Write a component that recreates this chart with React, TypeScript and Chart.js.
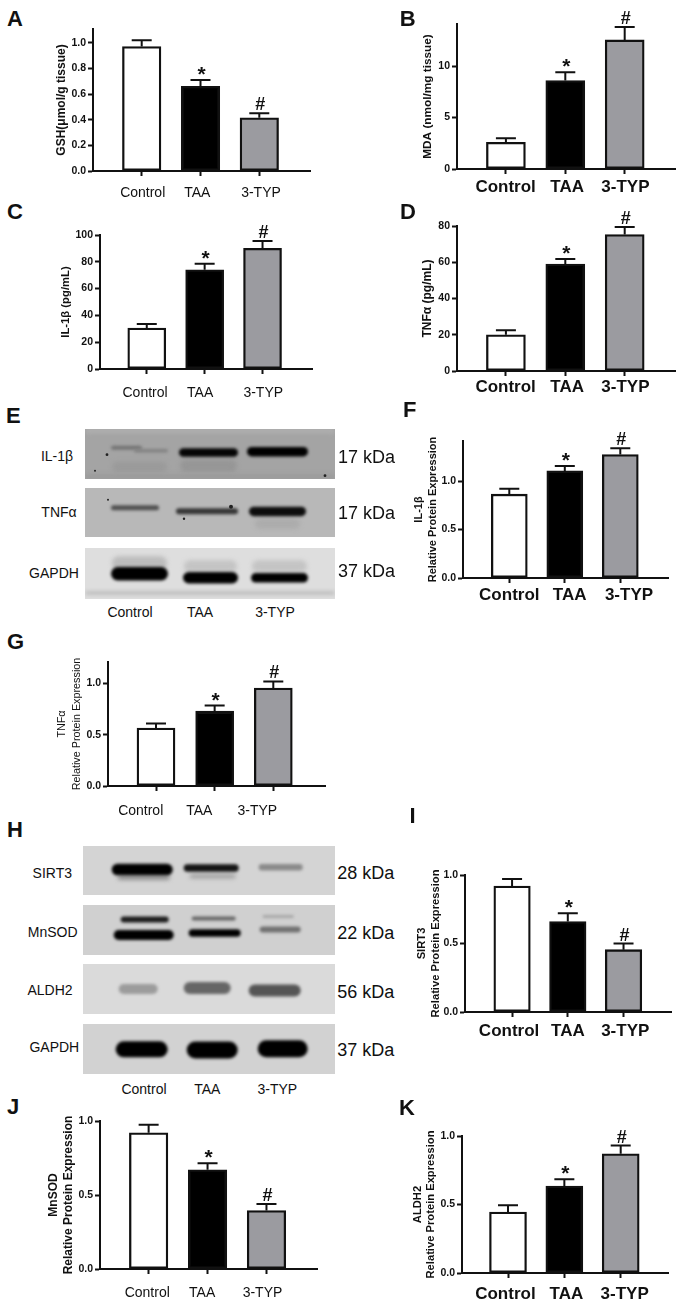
import React, { useEffect, useRef } from "react";
import { Chart, registerables } from "chart.js";

Chart.register(...registerables);

const FONT = "'Liberation Sans', Arial, sans-serif";

// ---------- data ----------
const categories = ["Control", "TAA", "3-TYP"];
const symbols = ["", "*", "#"];

const gshMeans = [0.97, 0.66, 0.415];
const gshErrTops = [1.02, 0.71, 0.45];
const gshTicks = [0, 0.2, 0.4, 0.6, 0.8, 1.0];

const mdaMeans = [2.6, 8.6, 12.55];
const mdaErrTops = [3.0, 9.4, 13.8];
const mdaTicks = [0, 5, 10];

const il1Means = [30.5, 74, 90];
const il1ErrTops = [33.5, 78.5, 95.5];
const il1Ticks = [0, 20, 40, 60, 80, 100];

const tnfMeans = [20, 59, 75.3];
const tnfErrTops = [22.5, 61.8, 79.5];
const tnfTicks = [0, 20, 40, 60, 80];

const il1ProteinMeans = [0.865, 1.105, 1.275];
const il1ProteinErrTops = [0.92, 1.155, 1.34];
const tnfProteinMeans = [0.565, 0.73, 0.955];
const tnfProteinErrTops = [0.61, 0.785, 1.02];
const sirt3Means = [0.92, 0.66, 0.455];
const sirt3ErrTops = [0.97, 0.72, 0.5];
const mnsodMeans = [0.92, 0.67, 0.395];
const mnsodErrTops = [0.975, 0.715, 0.44];
const aldh2Means = [0.445, 0.635, 0.87];
const aldh2ErrTops = [0.495, 0.685, 0.93];
const proteinTicks = [0, 0.5, 1.0];

// ---------- panel definitions ----------
type Panel = {
  key: string;
  means: number[];
  errs: number[];
  ticks: number[];
  decimals: number;
  yMax: number;
  title: string[];
  titleX: number;
  titleSize: number;
  titleWeight: string;
  lineGap: number;
  axisX: number;
  xEnd: number;
  yTop: number;
  y0: number;
  tickPx: number[];
  labelPx: number[];
  labelY: number;
  labelBold: boolean;
  barW: number;
};

const panels: Panel[] = [
  { key: "A", means: gshMeans, errs: gshErrTops, ticks: gshTicks, decimals: 1, yMax: 1.107, title: ["GSH(μmol/g tissue)"], titleX: 61.7, titleSize: 12, titleWeight: "bold", lineGap: 14, axisX: 93, xEnd: 310, yTop: 29, y0: 171.3, tickPx: [141.7, 200.7, 259.3], labelPx: [142.7, 197.3, 261], labelY: 193, labelBold: false, barW: 38.5 },
  { key: "B", means: mdaMeans, errs: mdaErrTops, ticks: mdaTicks, decimals: 0, yMax: 14.1, title: ["MDA (nmol/mg tissue)"], titleX: 428, titleSize: 11.8, titleWeight: "bold", lineGap: 14, axisX: 457.3, xEnd: 675.7, yTop: 24, y0: 169.3, tickPx: [506.3, 565.7, 625.3], labelPx: [506, 567.7, 626], labelY: 188, labelBold: true, barW: 39 },
  { key: "C", means: il1Means, errs: il1ErrTops, ticks: il1Ticks, decimals: 0, yMax: 100, title: ["IL-1β (pg/mL)"], titleX: 65.7, titleSize: 11.3, titleWeight: "bold", lineGap: 14, axisX: 100, xEnd: 311.7, yTop: 235, y0: 369, tickPx: [146.7, 204.3, 262.3], labelPx: [145, 200, 263], labelY: 392.7, labelBold: false, barW: 38 },
  { key: "D", means: tnfMeans, errs: tnfErrTops, ticks: tnfTicks, decimals: 0, yMax: 80, title: ["TNFα (pg/mL)"], titleX: 428, titleSize: 12, titleWeight: "bold", lineGap: 14, axisX: 457.3, xEnd: 675.7, yTop: 226, y0: 371.3, tickPx: [506.3, 565.7, 625.3], labelPx: [506, 567.7, 626], labelY: 388, labelBold: true, barW: 39 },
  { key: "F", means: il1ProteinMeans, errs: il1ProteinErrTops, ticks: proteinTicks, decimals: 1, yMax: 1.414, title: ["IL-1β", "Relative Protein Expression"], titleX: 418.3, titleSize: 11, titleWeight: "bold", lineGap: 14.4, axisX: 462.7, xEnd: 667.7, yTop: 441, y0: 577.7, tickPx: [509, 565, 620], labelPx: [509, 569.3, 628.7], labelY: 595, labelBold: true, barW: 36 },
  { key: "G", means: tnfProteinMeans, errs: tnfProteinErrTops, ticks: proteinTicks, decimals: 1, yMax: 1.21, title: ["TNFα", "Relative Protein Expression"], titleX: 62.3, titleSize: 10.8, titleWeight: "normal", lineGap: 15, axisX: 108, xEnd: 325, yTop: 661.7, y0: 785.3, tickPx: [156, 214.7, 273.3], labelPx: [140.7, 199.3, 257.3], labelY: 810, labelBold: false, barW: 38 },
  { key: "I", means: sirt3Means, errs: sirt3ErrTops, ticks: proteinTicks, decimals: 1, yMax: 1, title: ["SIRT3", "Relative Protein Expression"], titleX: 421.7, titleSize: 11.2, titleWeight: "bold", lineGap: 14, axisX: 465, xEnd: 670.7, yTop: 875, y0: 1012, tickPx: [512, 567.7, 623.3], labelPx: [509, 567.7, 625], labelY: 1031.7, labelBold: true, barW: 36.5 },
  { key: "J", means: mnsodMeans, errs: mnsodErrTops, ticks: proteinTicks, decimals: 1, yMax: 1, title: ["MnSOD", "Relative Protein Expression"], titleX: 54, titleSize: 12, titleWeight: "bold", lineGap: 14.3, axisX: 100, xEnd: 317.3, yTop: 1121, y0: 1268.7, tickPx: [148.7, 207.3, 266.7], labelPx: [147.3, 202.3, 262.7], labelY: 1293, labelBold: false, barW: 38.5 },
  { key: "K", means: aldh2Means, errs: aldh2ErrTops, ticks: proteinTicks, decimals: 1, yMax: 1, title: ["ALDH2", "Relative Protein Expression"], titleX: 418.3, titleSize: 11.2, titleWeight: "bold", lineGap: 13.4, axisX: 462.3, xEnd: 668.3, yTop: 1135.7, y0: 1273, tickPx: [508.3, 565, 621], labelPx: [505.7, 566.7, 625], labelY: 1294, labelBold: true, barW: 37 },
];

const INK = "#111111";
const barFills = ["#ffffff", "#000000", "#9b9ba0"];
const CANVAS_LEFT = 62;
const CANVAS_TOP = 22;
const CANVAS_BOTTOM = 36;
const CANVAS_RIGHT = 4;

const errorPlugin = {
  id: "errorMarks",
  beforeDatasetsDraw(chart: any) {
    const opts = chart.options.plugins.errorMarks;
    const x = chart.scales.x;
    const y = chart.scales.y;
    const ctx = chart.ctx;
    ctx.save();
    ctx.strokeStyle = INK;
    ctx.lineWidth = 2;
    opts.means.forEach((m: number, i: number) => {
      const px = x.getPixelForValue(i + 1);
      const top = y.getPixelForValue(opts.errs[i]);
      const base = y.getPixelForValue(m);
      ctx.beginPath();
      ctx.moveTo(px, base);
      ctx.lineTo(px, top);
      ctx.moveTo(px - 10, top);
      ctx.lineTo(px + 10, top);
      ctx.stroke();
    });
    ctx.restore();
  },
  afterDatasetsDraw(chart: any) {
    const opts = chart.options.plugins.errorMarks;
    const x = chart.scales.x;
    const y = chart.scales.y;
    const ctx = chart.ctx;
    ctx.save();
    ctx.fillStyle = INK;
    ctx.textAlign = "center";
    ctx.textBaseline = "alphabetic";
    symbols.forEach((s, i) => {
      if (!s) return;
      const px = x.getPixelForValue(i + 1) + 1;
      const top = y.getPixelForValue(opts.errs[i]);
      if (s === "*") {
        ctx.font = `bold 21px ${FONT}`;
        ctx.fillText(s, px, top + 1);
      } else {
        ctx.font = `bold 18px ${FONT}`;
        ctx.fillText(s, px, top - 3);
      }
    });
    ctx.restore();
  },
};

function BarPanel({ p }: { p: Panel }) {
  const ref = useRef<HTMLCanvasElement | null>(null);
  const left = p.axisX - CANVAS_LEFT;
  const top = p.yTop - CANVAS_TOP;
  const width = p.xEnd - left + CANVAS_RIGHT;
  const height = p.y0 + CANVAS_BOTTOM - top;

  useEffect(() => {
    if (!ref.current) return;
    const unit = (p.tickPx[2] - p.tickPx[0]) / 2;
    const xMin = 1 - (p.tickPx[0] - p.axisX) / unit;
    const xMax = 3 + (p.xEnd - p.tickPx[2]) / unit;
    const labelValues = p.labelPx.map((px) => xMin + (px - p.axisX) / unit);
    const labelSize = p.labelBold ? 17 : 14;
    const lh = p.lineGap / p.titleSize;
    const chart = new Chart(ref.current, {
      type: "bar",
      data: {
        datasets: [
          {
            data: p.means.map((m, i) => ({ x: i + 1, y: m })),
            backgroundColor: barFills,
            borderColor: INK,
            borderWidth: 2.3,
            borderSkipped: false,
            barThickness: p.barW,
          },
        ],
      } as any,
      plugins: [errorPlugin as any],
      options: {
        animation: false,
        responsive: false,
        devicePixelRatio: 1,
        layout: { padding: { top: CANVAS_TOP, left: 0, right: CANVAS_RIGHT, bottom: 0 } },
        plugins: {
          legend: { display: false },
          tooltip: { enabled: false },
          errorMarks: { means: p.means, errs: p.errs },
        } as any,
        scales: {
          x: {
            type: "linear",
            position: "bottom",
            weight: 0,
            min: xMin,
            max: xMax,
            offset: false,
            afterBuildTicks: (s: any) => {
              s.ticks = [{ value: 1 }, { value: 2 }, { value: 3 }];
            },
            afterFit: (s: any) => {
              s.height = 5;
            },
            grid: { display: true, offset: false, drawOnChartArea: false, drawTicks: true, tickLength: 5, tickWidth: 2, tickColor: INK, color: INK },
            border: { display: true, color: INK, width: 2 },
            ticks: { display: false },
          },
          xl: {
            type: "linear",
            axis: "x",
            position: "bottom",
            weight: 1,
            min: xMin,
            max: xMax,
            offset: false,
            afterBuildTicks: (s: any) => {
              s.ticks = labelValues.map((value) => ({ value }));
            },
            afterFit: (s: any) => {
              s.height = CANVAS_BOTTOM - 5;
            },
            grid: { display: false, drawTicks: false, drawOnChartArea: false, offset: false },
            border: { display: false },
            ticks: {
              autoSkip: false,
              maxRotation: 0,
              minRotation: 0,
              color: INK,
              padding: p.labelY - (p.y0 + 5) - 0.6 * labelSize,
              font: { family: FONT, size: labelSize, weight: p.labelBold ? "bold" : "normal" },
              callback: (_v: any, i: number) => categories[i],
            },
          },
          y: {
            type: "linear",
            min: 0,
            max: p.yMax,
            afterBuildTicks: (s: any) => {
              s.ticks = p.ticks.map((value) => ({ value }));
            },
            afterFit: (s: any) => {
              s.width = CANVAS_LEFT;
            },
            grid: { display: true, drawOnChartArea: false, drawTicks: true, tickLength: 5, tickWidth: 2, tickColor: INK, color: INK },
            border: { display: true, color: INK, width: 2 },
            ticks: {
              color: INK,
              padding: 2,
              font: { family: FONT, size: 10.5, weight: "bold" },
              callback: (v: any) => Number(v).toFixed(p.decimals),
            },
            title: {
              display: true,
              text: p.title,
              color: INK,
              align: "center",
              padding: { top: p.titleX - left - p.lineGap / 2, bottom: 0 },
              font: { family: FONT, size: p.titleSize, weight: p.titleWeight, lineHeight: lh },
            },
          },
        },
      } as any,
    });
    return () => chart.destroy();
  }, []);

  return <canvas ref={ref} width={Math.round(width)} height={Math.round(height)} style={{ position: "absolute", left, top, width: Math.round(width), height: Math.round(height) }} />;
}

// ---------- western blots (photographs, painted as soft shapes) ----------
type Band = [number, number, number, number, string];
type Blot = { x0: number; x1: number; y0: number; y1: number; bg: string; bands: Band[]; halos?: Band[]; specks?: [number, number, number][] };

const blots: Blot[] = [
  { x0: 85, x1: 335, y0: 429.3, y1: 479, bg: "#a4a4a4", bands: [[111, 142, 448, 4, "#747474"], [134, 168, 451, 3.5, "#828282"], [179, 238, 452.7, 8.5, "#050505"], [247, 308, 452, 9.5, "#000000"]], halos: [[180, 237, 466, 12, "#969696"], [112, 167, 467, 10, "#9a9a9a"], [85, 335, 431, 5, "#b0b0b0"], [85, 335, 477, 4, "#989898"]], specks: [[107, 455, 1.4], [95, 471, 1], [325, 476, 1.4]] },
  { x0: 85, x1: 335, y0: 488.3, y1: 537.7, bg: "#b8b8b8", bands: [[111, 159, 508, 5, "#4f4f4f"], [176, 238, 511.5, 6, "#363636"], [249, 306, 511.7, 9.5, "#0d0d0d"]], halos: [[255, 300, 524, 10, "#acacac"]], specks: [[231, 507, 2], [184, 519, 1.2], [108, 500, 1]] },
  { x0: 85, x1: 335, y0: 547.7, y1: 599, bg: "#dedede", bands: [[111, 168, 573.5, 13.5, "#000000"], [183, 238, 577.5, 11.5, "#000000"], [251, 308, 577.5, 9.5, "#000000"]], halos: [[112, 167, 563, 14, "#bcbcbc"], [184, 237, 566, 12, "#c4c4c4"], [252, 307, 566, 12, "#c4c4c4"], [85, 335, 592.7, 1.5, "#8c8c8c"]] },
  { x0: 83.3, x1: 335, y0: 845.7, y1: 895, bg: "#d4d4d4", bands: [[112, 173, 869.3, 11.5, "#000000"], [184, 239, 867.7, 7.5, "#141414"], [259, 303, 867, 6.5, "#8a8a8a"]], halos: [[118, 170, 877, 5, "#8a8a8a"], [190, 236, 876, 4, "#9c9c9c"]] },
  { x0: 83.3, x1: 335, y0: 904.7, y1: 954.3, bg: "#d0d0d0", bands: [[121, 169, 919.3, 6, "#1c1c1c"], [114, 174, 934.7, 10, "#000000"], [192, 236, 918.3, 4, "#666666"], [189, 241, 932.7, 7.5, "#000000"], [263, 294, 916.3, 2.5, "#a0a0a0"], [260, 301, 929.3, 6, "#707070"]] },
  { x0: 83.3, x1: 335, y0: 964.3, y1: 1014, bg: "#dadada", bands: [[119, 158, 989.3, 10, "#9c9c9c"], [184, 231, 988.3, 12, "#666666"], [249, 301, 990.7, 12, "#555555"]] },
  { x0: 83.3, x1: 335, y0: 1024, y1: 1074.3, bg: "#d2d2d2", bands: [[116, 168, 1049.3, 16, "#000000"], [187, 238, 1050, 17, "#000000"], [258, 308, 1048.7, 17, "#000000"]] },
];

function BlotPanel({ b }: { b: Blot }) {
  const ref = useRef<HTMLCanvasElement | null>(null);
  const w = Math.round(b.x1 - b.x0);
  const h = Math.round(b.y1 - b.y0);
  useEffect(() => {
    const ctx = ref.current?.getContext("2d");
    if (!ctx) return;
    ctx.fillStyle = b.bg;
    ctx.fillRect(0, 0, w, h);
    const paint = (list: Band[], blur: number) => {
      ctx.filter = `blur(${blur}px)`;
      list.forEach(([x1, x2, yc, th, col]) => {
        ctx.fillStyle = col;
        ctx.beginPath();
        (ctx as any).roundRect(x1 - b.x0, yc - th / 2 - b.y0, x2 - x1, th, th / 2);
        ctx.fill();
      });
    };
    paint(b.halos || [], 2);
    paint(b.bands, 1.4);
    ctx.filter = "blur(0.6px)";
    (b.specks || []).forEach(([x, y, r]) => {
      ctx.fillStyle = "#222222";
      ctx.beginPath();
      ctx.arc(x - b.x0, y - b.y0, r, 0, Math.PI * 2);
      ctx.fill();
    });
    ctx.filter = "none";
  }, []);
  return <canvas ref={ref} width={w} height={h} style={{ position: "absolute", left: b.x0, top: b.y0, width: w, height: h }} />;
}

// ---------- free text ----------
type Txt = [string, number, number, number, string, "c" | "l"];
const letters: Txt[] = [
  ["A", 7, 18.5, 22, "bold", "l"],
  ["B", 399.7, 18.5, 22, "bold", "l"],
  ["C", 7, 212, 22, "bold", "l"],
  ["D", 400, 211.5, 22, "bold", "l"],
  ["E", 6, 416, 22, "bold", "l"],
  ["F", 403, 410, 22, "bold", "l"],
  ["G", 7, 641.5, 22, "bold", "l"],
  ["H", 7, 830, 22, "bold", "l"],
  ["I", 409.5, 816, 22, "bold", "l"],
  ["J", 7, 1106.5, 22, "bold", "l"],
  ["K", 399, 1107.5, 22, "bold", "l"],
];
const blotTexts: Txt[] = [
  ["IL-1β", 57, 456, 14, "normal", "c"],
  ["TNFα", 59, 511.7, 14, "normal", "c"],
  ["GAPDH", 54, 572.7, 14, "normal", "c"],
  ["17 kDa", 338, 456.7, 18, "normal", "l"],
  ["17 kDa", 338, 513, 18, "normal", "l"],
  ["37 kDa", 338, 570.7, 18, "normal", "l"],
  ["Control", 130, 611.7, 14, "normal", "c"],
  ["TAA", 200, 611.7, 14, "normal", "c"],
  ["3-TYP", 275, 611.7, 14, "normal", "c"],
  ["SIRT3", 52.3, 873.3, 14, "normal", "c"],
  ["MnSOD", 52.7, 931.7, 14, "normal", "c"],
  ["ALDH2", 50, 990, 14, "normal", "c"],
  ["GAPDH", 54.3, 1047.3, 14, "normal", "c"],
  ["28 kDa", 337.3, 873.3, 18, "normal", "l"],
  ["22 kDa", 337.3, 933.3, 18, "normal", "l"],
  ["56 kDa", 337.3, 991.7, 18, "normal", "l"],
  ["37 kDa", 337.3, 1050, 18, "normal", "l"],
  ["Control", 144, 1089.3, 14, "normal", "c"],
  ["TAA", 207.3, 1089.3, 14, "normal", "c"],
  ["3-TYP", 277.3, 1089.3, 14, "normal", "c"],
];

function Label({ t }: { t: Txt }) {
  const [s, x, y, size, weight, align] = t;
  return (
    <div
      style={{
        position: "absolute",
        left: x,
        top: y,
        fontFamily: FONT,
        fontSize: size,
        fontWeight: weight as any,
        color: INK,
        lineHeight: 1,
        whiteSpace: "nowrap",
        transform: align === "c" ? "translate(-50%,-50%)" : "translate(0,-50%)",
      }}
    >
      {s}
    </div>
  );
}

export default function App() {
  return (
    <div style={{ position: "absolute", left: 0, top: 0, width: 678, height: 1303, background: "#ffffff", overflow: "hidden" }}>
      {blots.map((b, i) => (
        <BlotPanel key={i} b={b} />
      ))}
      {panels.map((p) => (
        <BarPanel key={p.key} p={p} />
      ))}
      {letters.concat(blotTexts).map((t, i) => (
        <Label key={i} t={t} />
      ))}
    </div>
  );
}
